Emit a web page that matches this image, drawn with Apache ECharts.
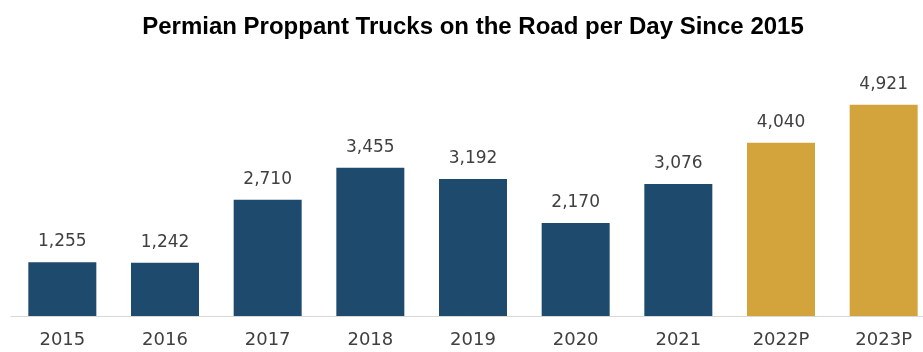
<!DOCTYPE html>
<html><head><meta charset="utf-8">
<script src="https://cdn.jsdelivr.net/npm/echarts@6/dist/echarts.min.js"></script>
<style>html,body{margin:0;padding:0;background:#fff}#c{width:923px;height:352px}</style>
</head><body><div id="c"></div>
<script>
const categories = ['2015','2016','2017','2018','2019','2020','2021','2022P','2023P'];
const trucks = [1255,1242,2710,3455,3192,2170,3076,4040,4921];
const projected = [false,false,false,false,false,false,false,true,true];
const NAVY = '#1d4a6d', GOLD = '#d3a43c';
const chart = echarts.init(document.getElementById('c'));
chart.setOption({
  animation:false,
  title:{text:'Permian Proppant Trucks on the Road per Day Since 2015',left:468,top:10,textAlign:'center',
    textStyle:{fontFamily:'Liberation Sans, Arial, sans-serif',fontWeight:'bold',fontSize:24,color:'#000'}},
  grid:{left:11,right:-12,top:80,bottom:36,outerBoundsMode:'none',containLabel:false},
  xAxis:{type:'category',data:categories,
    axisLine:{lineStyle:{color:'#d8d8d8',width:1}},axisTick:{show:false},
    axisLabel:{fontFamily:'DejaVu Sans, sans-serif',fontSize:18,color:'#404040',margin:15}},
  yAxis:{type:'value',min:0,max:5500,show:false,splitLine:{show:false}},
  series:[{type:'bar',barWidth:68,
    data:trucks.map((v,i)=>({value:v,itemStyle:{color:projected[i]?GOLD:NAVY}})),
    label:{show:true,position:'top',distance:12,fontFamily:'DejaVu Sans, sans-serif',fontSize:17,color:'#404040',
      formatter:p=>p.value.toLocaleString('en-US')}}]
});
</script></body></html>
